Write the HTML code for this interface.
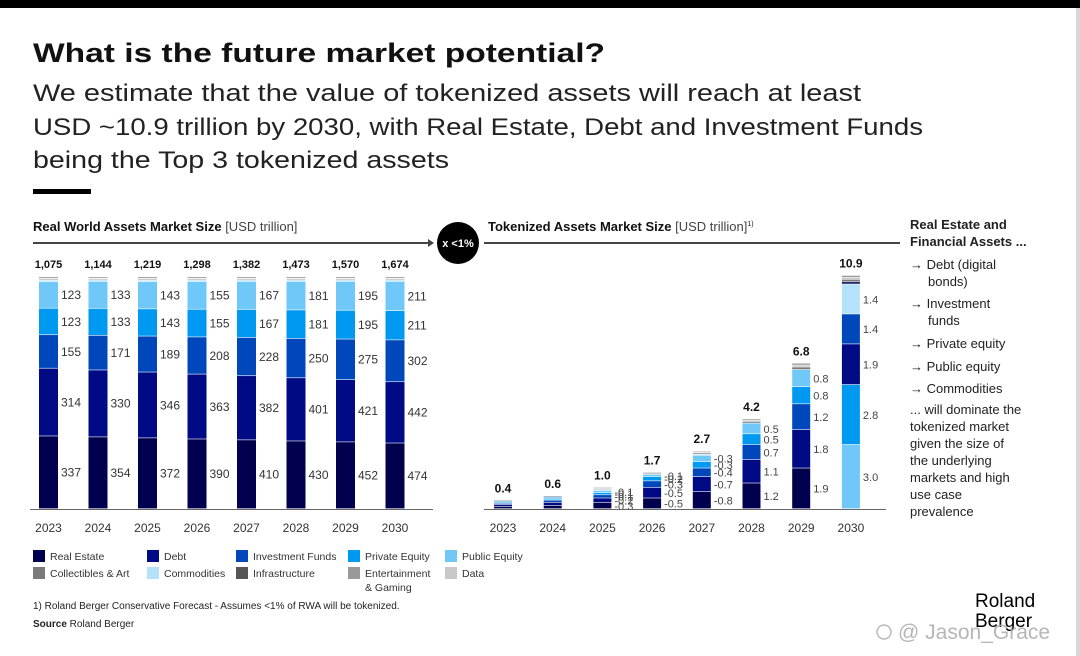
<!DOCTYPE html>
<html><head><meta charset="utf-8"><style>
html,body{margin:0;padding:0;background:#fff;}
svg{display:block;font-family:"Liberation Sans",sans-serif;}
</style></head><body>
<svg id="s" width="1080" height="656" viewBox="0 0 1080 656" xmlns="http://www.w3.org/2000/svg">
<rect x="0" y="0" width="1080" height="656" fill="#fff"/>
<rect x="0" y="0" width="1080" height="8" fill="#000"/>
<rect x="1076" y="8" width="4" height="648" fill="#d8d8d8"/>
<text x="33" y="62" font-size="27" font-weight="bold" fill="#111" textLength="572" lengthAdjust="spacingAndGlyphs">What is the future market potential?</text>
<g font-size="24" fill="#222">
<text x="33" y="101" textLength="828" lengthAdjust="spacingAndGlyphs">We estimate that the value of tokenized assets will reach at least</text>
<text x="33" y="135" textLength="890" lengthAdjust="spacingAndGlyphs">USD ~10.9 trillion by 2030, with Real Estate, Debt and Investment Funds</text>
<text x="33" y="168" textLength="416" lengthAdjust="spacingAndGlyphs">being the Top 3 tokenized assets</text>
</g>
<rect x="33" y="189" width="58" height="5" fill="#000"/>
<text x="33" y="231" font-size="13" font-weight="bold" fill="#111">Real World Assets Market Size <tspan font-weight="normal" fill="#444">[USD trillion]</tspan></text>
<text x="488" y="231" font-size="13" font-weight="bold" fill="#111">Tokenized Assets Market Size <tspan font-weight="normal" fill="#444">[USD trillion]</tspan><tspan font-size="7" dy="-5" font-weight="normal">1)</tspan></text>
<line x1="33" y1="243" x2="430" y2="243" stroke="#444" stroke-width="2"/>
<path d="M428,239 L434,243 L428,247 Z" fill="#444"/>
<circle cx="458" cy="243" r="21" fill="#000"/>
<text x="458" y="247" font-size="11" font-weight="bold" fill="#fff" text-anchor="middle">x &lt;1%</text>
<line x1="484" y1="243" x2="900" y2="243" stroke="#444" stroke-width="2"/>
<g id="left"></g>
<g id="right"></g>
<g id="legend"></g>
<text x="33" y="609" font-size="10" fill="#222">1) Roland Berger Conservative Forecast - Assumes &lt;1% of RWA will be tokenized.</text>
<text x="33" y="627" font-size="10" fill="#222"><tspan font-weight="bold">Source</tspan> Roland Berger</text>
<g font-size="13" fill="#222">
<text x="910" y="229" font-weight="bold">Real Estate and</text>
<text x="910" y="246" font-weight="bold">Financial Assets ...</text>
<text x="910" y="269">→ Debt (digital</text>
<text x="928" y="286">bonds)</text>
<text x="910" y="308">→ Investment</text>
<text x="928" y="325">funds</text>
<text x="910" y="348">→ Private equity</text>
<text x="910" y="371">→ Public equity</text>
<text x="910" y="393">→ Commodities</text>
<text x="910" y="414">... will dominate the</text>
<text x="910" y="431">tokenized market</text>
<text x="910" y="448">given the size of</text>
<text x="910" y="465">the underlying</text>
<text x="910" y="482">markets and high</text>
<text x="910" y="499">use case</text>
<text x="910" y="516">prevalence</text>
</g>
<text x="975" y="607" font-size="19" fill="#000">Roland</text>
<text x="975" y="627" font-size="19" fill="#000">Berger</text>
<circle cx="884" cy="632" r="7" fill="none" stroke="#bbb" stroke-width="1.5"/>
<text x="898" y="639" font-size="21" fill="#aaa" opacity="0.85">@ Jason_Grace</text>
</svg>
<script>
const years=["2023","2024","2025","2026","2027","2028","2029","2030"];
const rwaTotal=[1075,1144,1219,1298,1382,1473,1570,1674];
const rwaRE=[337,354,372,390,410,430,452,474];
const rwaDebt=[314,330,346,363,382,401,421,442];
const rwaIF=[155,171,189,208,228,250,275,302];
const rwaPE=[123,133,143,155,167,181,195,211];
const rwaPub=[123,133,143,155,167,181,195,211];
const tokTotal=[0.4,0.6,1.0,1.7,2.7,4.2,6.8,10.9];
const tokRE=[0.1,0.15,0.3,0.5,0.8,1.2,1.9,0.1];
const tokDebt=[0.1,0.15,0.2,0.5,0.7,1.1,1.8,1.9];
const tokIF=[0.05,0.1,0.15,0.3,0.4,0.7,1.2,1.4];
const tokPE=[0.05,0.05,0.1,0.2,0.3,0.5,0.8,2.8];
const tokPub=[0.05,0.1,0.1,0.1,0.3,0.5,0.8,3.0];
const tokComm=[0.02,0.02,0.05,0.03,0.05,0.0,0.0,1.4];
const tokTotalLabels=["0.4","0.6","1.0","1.7","2.7","4.2","6.8","10.9"];
const C={re:"#00004f",debt:"#000a85",inv:"#0047bb",pe:"#0099f2",pub:"#6fc8f8",comm:"#b5e2fb",col:"#7a7a7a",inf:"#555",ent:"#999",data:"#c8c8c8"};
const NS="http://www.w3.org/2000/svg";
function mk(tag,attrs,parent){const e=document.createElementNS(NS,tag);for(const k in attrs)e.setAttribute(k,attrs[k]);parent.appendChild(e);return e;}
const base=509, plotH=232;
const L=document.getElementById('left');
function lx(i){return 39+i*49.5;}
years.forEach((y,i)=>{
  const t=rwaTotal[i];const s=v=>v/t*plotH;
  const other=t-rwaRE[i]-rwaDebt[i]-rwaIF[i]-rwaPE[i]-rwaPub[i];
  const segs=[[rwaRE[i],C.re,true],[rwaDebt[i],C.debt,true],[rwaIF[i],C.inv,true],[rwaPE[i],C.pe,true],[rwaPub[i],C.pub,true],[other*0.3,C.comm,false],[other*0.2,C.col,false],[other*0.2,"#ddd",false],[other*0.3,C.ent,false]];
  let yy=base;
  segs.forEach((sg,j)=>{const h=s(sg[0]);yy-=h;
    const r=mk('rect',{x:lx(i),y:yy,width:19,height:Math.max(h-0.6,0.3),fill:sg[1]},L);
    
    
    if(sg[2]){const tx=mk('text',{x:lx(i)+22,y:yy+h/2+4,'font-size':12,fill:'#333'},L);tx.textContent=sg[0];
      
      }
  });
  const tl=mk('text',{x:lx(i)+9.5,y:268,'font-size':11,'font-weight':'bold','text-anchor':'middle',fill:'#111'},L);
  tl.textContent=t.toLocaleString('en-US');
  
  
  const yl=mk('text',{x:lx(i)+9.5,y:532,'font-size':12,'text-anchor':'middle',fill:'#333'},L);
  yl.textContent=y;
  
  
});
const la=mk('line',{x1:30,y1:base+0.5,x2:433,y2:base+0.5,stroke:'#666','stroke-width':1},L);


const R=document.getElementById('right');
const ppu=21.4;
function rx(i){return 494+i*49.7;}
years.forEach((y,i)=>{
  const main=[[tokRE[i],C.re],[tokDebt[i],C.debt],[tokIF[i],C.inv],[tokPE[i],C.pe],[tokPub[i],C.pub],[tokComm[i],C.comm]];
  let order=i===7?[4,3,1,2,5,0]:[0,1,2,3,4,5];
  const sum=main.reduce((a,b)=>a+b[0],0);
  const other=Math.max(tokTotal[i]-sum,0);
  const segs=order.map(k=>[main[k][0],main[k][1],k<5&&(i>=2)&&main[k][0]>=0.1&&!(i===7&&k===0)]);
  if(i===7)segs[4][2]=true;
  segs.push([other*0.4,C.col,false],[other*0.3,C.data,false],[other*0.3,C.ent,false]);
  let yy=base;
  segs.forEach(sg=>{const h=sg[0]*ppu;yy-=h;if(h<=0)return;
    const r=mk('rect',{x:rx(i),y:yy,width:18,height:Math.max(h-0.6,0.3),fill:sg[1]},R);
    
    
    if(sg[2]){const tx=mk('text',{x:rx(i)+21,y:yy+h/2+4,'font-size':11,fill:'#444'},R);
      tx.textContent=(i<5?'-':'')+sg[0].toFixed(1);
      
      }
  });
  const tl=mk('text',{x:rx(i)+9,y:base-tokTotal[i]*ppu-8,'font-size':12,'font-weight':'bold','text-anchor':'middle',fill:'#111'},R);
  tl.textContent=tokTotalLabels[i];
  
  
  const yl=mk('text',{x:rx(i)+9,y:532,'font-size':12,'text-anchor':'middle',fill:'#333'},R);
  yl.textContent=y;
  
  
});
const rb=mk('line',{x1:484,y1:base+0.5,x2:886,y2:base+0.5,stroke:'#666','stroke-width':1},R);


const G=document.getElementById('legend');
const legNames=["Real Estate","Debt","Investment Funds","Private Equity","Public Equity","Collectibles & Art","Commodities","Infrastructure","Entertainment","Data"];
const legCols=[C.re,C.debt,C.inv,C.pe,C.pub,C.col,C.comm,C.inf,C.ent,C.data];
const colX=[33,147,236,348,445];
legNames.forEach((n,k)=>{
  const x=colX[k%5],y=550+(k>=5?17:0);
  const r=mk('rect',{x:x,y:y,width:12,height:12,fill:legCols[k]},G);
  
  
  const t=mk('text',{x:x+17,y:y+10,'font-size':10.5,fill:'#333'},G);
  t.textContent=n;
  
  
});
const t2=mk('text',{x:365,y:591,'font-size':10.5,fill:'#333'},G);
t2.textContent="& Gaming";


</script>
</body></html>
